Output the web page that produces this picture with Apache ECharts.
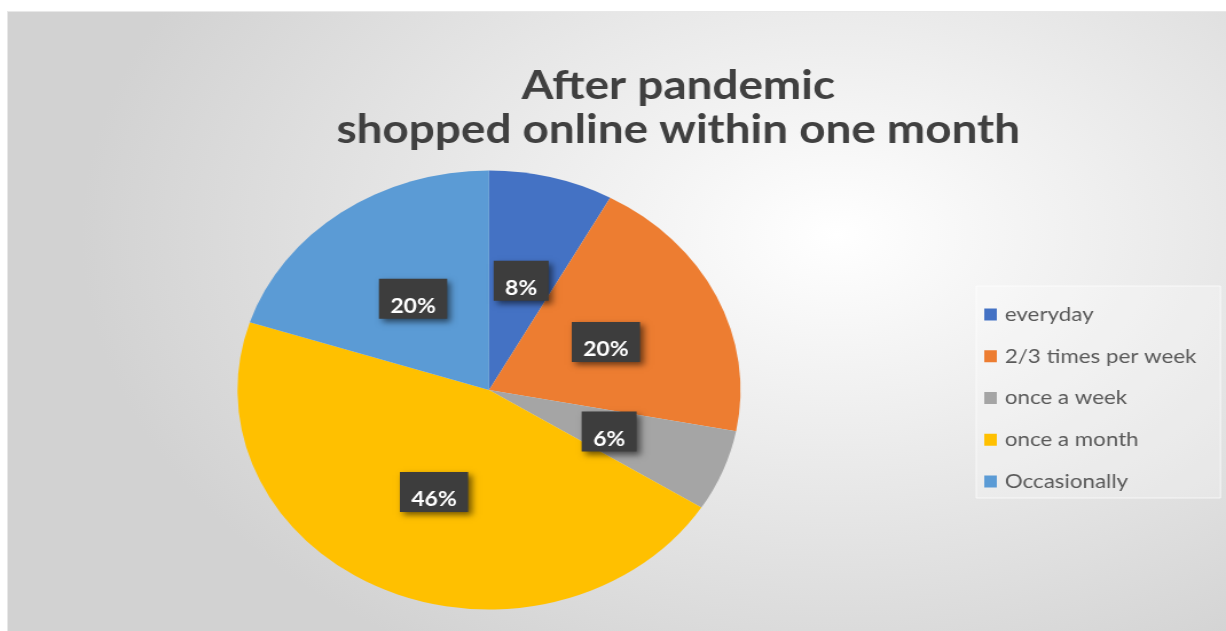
<!DOCTYPE html>
<html><head><meta charset="utf-8">
<script src="https://cdn.jsdelivr.net/npm/echarts@6/dist/echarts.min.js"></script>
<style>
html,body{margin:0;padding:0;background:#fff;width:1226px;height:631px;overflow:hidden}
#frame{position:absolute;left:7px;top:11px;width:1219px;height:620px;
background: radial-gradient(ellipse 62% 80% at 68% 36%, #ffffff 0%, #f5f5f5 22%, #d2d2d2 100%);
border-top:1px solid #e8e8e8;border-left:1px solid #e8e8e8;box-sizing:border-box}
#chart{position:absolute;left:0;top:0;width:1064px;height:620px;transform:scaleX(1.1458);transform-origin:0 0}
</style></head>
<body>
<div id="frame"><div id="chart"></div></div>
<script>
const titleText = 'After pandemic\nshopped online within one month';
const categories = ['everyday', '2/3 times per week', 'once a week', 'once a month', 'Occasionally'];
const shares = [8, 20, 6, 46, 20];
const palette = ['#4472C4', '#ED7D31', '#A5A5A5', '#FFC000', '#5B9BD5'];

const chart = echarts.init(document.getElementById('chart'), null, {renderer: 'canvas'});
const pieData = categories.map((c, i) => ({name: c, value: shares[i], itemStyle: {color: palette[i]}}));

chart.setOption({
  backgroundColor: 'transparent',
  animation: false,
  title: {
    text: titleText,
    left: 585, top: 52, textAlign: 'center', padding: 0,
    textStyle: {fontFamily: 'Lato', fontWeight: 'bold', fontSize: 40, lineHeight: 44, color: '#404040'}
  },
  legend: {
    orient: 'vertical', left: 845, top: 274,
    padding: [18, 21, 6, 7],
    itemWidth: 11, itemHeight: 12, itemGap: 20.75, icon: 'rect',
    backgroundColor: 'rgba(255,255,255,0.25)', borderColor: 'rgba(255,255,255,0.7)', borderWidth: 1,
    textStyle: {fontFamily: 'Lato', fontSize: 19.5, lineHeight: 21, color: '#595959', padding: [0, 0, 0, 2]},
    data: categories
  },
  series: [{
    type: 'pie',
    center: [419.8, 378],
    radius: [0, 219.5],
    startAngle: 90,
    clockwise: true,
    silent: true,
    itemStyle: {borderWidth: 0},
    label: {
      show: true, position: 'inside',
      formatter: p => '{s| }\n{t|' + Math.round(p.percent) + '%}',
      backgroundColor: '#3d3d3d', padding: [2, 10, 2, 10],
      shadowColor: 'rgba(0,0,0,0.55)', shadowBlur: 6, shadowOffsetX: 3, shadowOffsetY: 3,
      rich: {
        s: {fontSize: 10, lineHeight: 16},
        t: {fontFamily: 'Lato', fontWeight: 'bold', fontSize: 20, lineHeight: 20, color: '#ffffff'}
      }
    },
    labelLine: {show: false},
    data: pieData
  }]
});
</script>
</body></html>
